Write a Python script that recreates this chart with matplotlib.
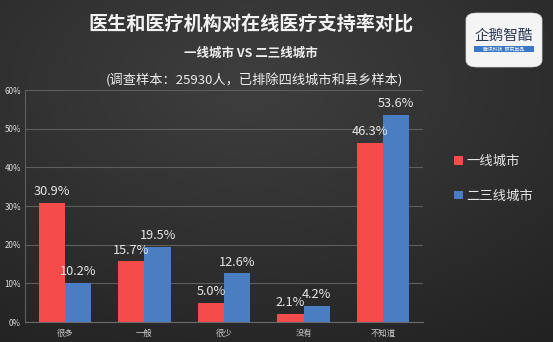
import matplotlib
matplotlib.use('Agg')
import matplotlib.pyplot as plt
import numpy as np
from matplotlib.patches import FancyBboxPatch, Rectangle, Patch

plt.rcParams['font.family'] = ['Noto Sans CJK SC', 'DejaVu Sans']

categories = ['很多', '一般', '很少', '没有', '不知道']
tier1 = [30.9, 15.7, 5.0, 2.1, 46.3]
tier23 = [10.2, 19.5, 12.6, 4.2, 53.6]
series_names = ['一线城市', '二三线城市']
yticks = [0, 10, 20, 30, 40, 50, 60]
ytick_labels = ['0%', '10%', '20%', '30%', '40%', '50%', '60%']

title = '医生和医疗机构对在线医疗支持率对比'
subtitle = '一线城市 VS 二三线城市'
note = '(调查样本：25930人，已排除四线城市和县乡样本)'

RED = '#F54B4B'
BLUE = '#4A7DC2'
TXT = '#e6e6e6'

W, H = 553, 342
fig = plt.figure(figsize=(W / 100, H / 100), dpi=100)

# background gradient
bg = fig.add_axes([0, 0, 1, 1], zorder=-10)
yy, xx = np.mgrid[0:1:200j, 0:1:300j]
r = np.sqrt(((xx - 0.45) / 0.9) ** 2 + ((yy - 0.25) / 0.9) ** 2)
v = np.clip(0.245 - 0.11 * r, 0.12, 0.26)
img = np.dstack([v, v, v])
bg.imshow(img, extent=[0, 1, 0, 1], aspect='auto', origin='upper')
bg.set_xlim(0, 1)
bg.set_ylim(0, 1)
bg.axis('off')

ax = fig.add_axes([25 / W, 1 - 322 / H, 398 / W, 232 / H])
ax.set_facecolor('none')
x = np.arange(len(categories))
bw = 0.33
ax.bar(x - bw / 2, tier1, width=bw, color=RED, zorder=3)
ax.bar(x + bw / 2, tier23, width=bw, color=BLUE, zorder=3)
for xi, a, b in zip(x, tier1, tier23):
    ax.text(xi - bw / 2, a + 1.2, f'{a:.1f}%', ha='center', va='bottom',
            fontsize=9.2, color=TXT, zorder=5)
    ax.text(xi + bw / 2, b + 1.2, f'{b:.1f}%', ha='center', va='bottom',
            fontsize=9.2, color=TXT, zorder=5)

ax.set_xlim(-0.5, len(categories) - 0.5)
ax.set_ylim(0, 60)
ax.set_yticks(yticks)
ax.set_yticklabels(ytick_labels, fontsize=5.8, color='#dddddd')
ax.set_xticks(x)
ax.set_xticklabels(categories, fontsize=6, color='#cccccc')
ax.tick_params(axis='x', length=0, pad=5)
ax.tick_params(axis='y', length=0, pad=3)
ax.grid(axis='y', color='#5e5e5e', lw=0.8, zorder=0)
for s in ['top', 'right']:
    ax.spines[s].set_visible(False)
ax.spines['left'].set_color('#5e5e5e')
ax.spines['bottom'].set_color('#6a6a6a')
ax.spines['left'].set_linewidth(0.8)
ax.spines['bottom'].set_linewidth(0.8)

handles = [Patch(facecolor=RED), Patch(facecolor=BLUE)]
fig.legend(handles, series_names, loc='upper left',
           bbox_to_anchor=(442 / W, 1 - 142 / H), frameon=False,
           fontsize=9.6, labelcolor=TXT, handlelength=0.65, handleheight=0.65,
           handletextpad=0.25, labelspacing=1.55)

fig.text(251 / W, 1 - 25 / H, title, ha='center', va='center',
         fontsize=13.8, fontweight='bold', color='#f2f2f2')
fig.text(251 / W, 1 - 53 / H, subtitle, ha='center', va='center',
         fontsize=9, fontweight='bold', color='#eeeeee')
fig.text(254 / W, 1 - 80 / H, note, ha='center', va='center',
         fontsize=9.5, color='#eeeeee')

# logo
logo = FancyBboxPatch((466 / W, 1 - 67 / H), 76 / W, 54 / H,
                      boxstyle='round,pad=0,rounding_size=0.02',
                      transform=fig.transFigure, facecolor='#f4f4f4',
                      edgecolor='#dddddd', lw=0.5, zorder=5)
fig.patches.append(logo)
fig.text(504 / W, 1 - 36 / H, '企鹅智酷', ha='center', va='center',
         fontsize=10.5, color='#2a3a55', zorder=6)
bar = Rectangle((474 / W, 1 - 52 / H), 60 / W, 6 / H,
                transform=fig.transFigure, facecolor='#3a78c8', zorder=6)
fig.patches.append(bar)
fig.text(504 / W, 1 - 49 / H, '腾讯科技  研究出品', ha='center', va='center',
         fontsize=3.5, color='white', zorder=7)

fig.savefig('out.png', dpi=100)
